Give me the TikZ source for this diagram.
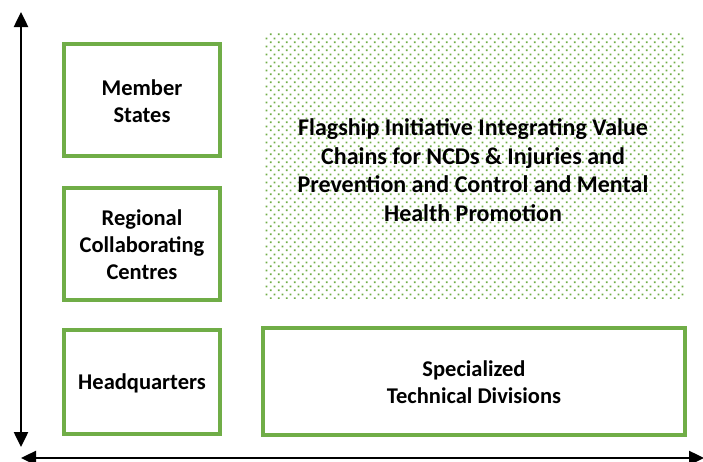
\documentclass[tikz,border=0pt]{standalone}
\usepackage{fontspec}
\setmainfont{Carlito}
\usetikzlibrary{arrows.meta,patterns.meta}
\definecolor{grn}{RGB}{112,173,71}
\tikzdeclarepattern{name=greendots, type=uncolored,
  bounding box={(0pt,0pt) and (7.7pt,7.7pt)},
  tile size={(7.7pt,7.7pt)},
  code={\fill (1pt,1pt) rectangle (2.7pt,2.7pt);
        \fill (4.85pt,4.85pt) rectangle (6.55pt,6.55pt);}}
\tikzset{
  box/.style={draw=grn, line width=4pt, fill=white},
  lbl/.style={font=\bfseries\fontsize{22.5}{27}\selectfont, align=center, text=black},
  axis2/.style={line width=2.5pt, {Triangle[width=14pt,length=15pt]}-{Triangle[width=14pt,length=15pt]}}
}
\begin{document}
\begin{tikzpicture}[x=1pt,y=-1pt]
\useasboundingbox (0,0) rectangle (703,461);
% dotted region
\fill[pattern=greendots, pattern color=grn] (265,33) rectangle (684,298);
% boxes
\draw[box] (64,44) rectangle (220,156);
\draw[box] (64,188) rectangle (220,300);
\draw[box] (64,330) rectangle (220,434);
\draw[box] (263,328) rectangle (685,435);
\node[lbl] (ms) at (142,101) {Member\\States};
\node[lbl] (rc) at (142,245) {Regional\\Collaborating\\Centres};
\node[lbl] (hq) at (142,383) {Headquarters};
\node[lbl] (st) at (474,382) {Specialized\\Technical Divisions};
\node[lbl, font=\bfseries\fontsize{24}{28.5}\selectfont] (fl) at (473,170) {Flagship Initiative Integrating Value\\Chains for NCDs \& Injuries and\\Prevention and Control and Mental\\Health Promotion};
% axes
\coordinate (vt) at (21,12);
\coordinate (vb) at (21,447);
\coordinate (hl) at (21,458);
\coordinate (hr) at (704,458);
\draw[axis2] (vb) -- (vt);
\draw[axis2] (hl) -- (hr);
\end{tikzpicture}
\end{document}
